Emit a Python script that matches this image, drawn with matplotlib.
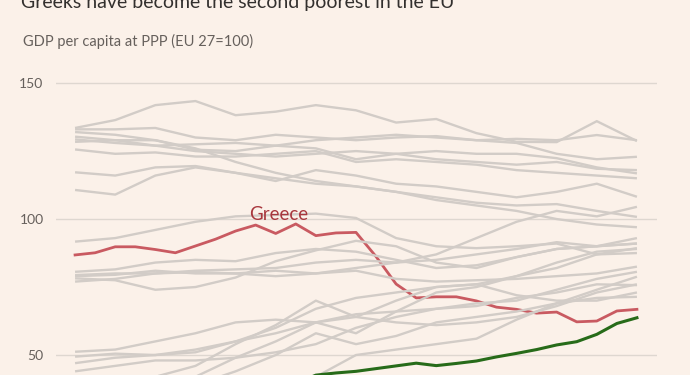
import matplotlib
matplotlib.use('Agg')
import matplotlib.pyplot as plt

plt.rcParams['font.family'] = ['Lato', 'DejaVu Sans']

# Years for the grey lines (read every second year off the picture)
years2 = [1995, 1997, 1999, 2001, 2003, 2005, 2007, 2009, 2011, 2013, 2015, 2017, 2019, 2021, 2023]

# Grey countries, GDP per capita at PPP (EU 27=100)
nl = [133.5, 136.4, 141.9, 143.4, 138.2, 139.5, 141.9, 140.0, 135.5, 136.8, 131.6, 128.4, 128.3, 136.0, 128.7]
dk = [133.0, 133.0, 133.5, 130.0, 129.0, 131.0, 130.0, 129.0, 130.0, 130.5, 129.0, 129.5, 129.0, 130.9, 129.0]
at = [132.0, 131.0, 129.0, 125.5, 125.0, 127.0, 129.0, 130.0, 131.0, 130.0, 129.0, 128.0, 124.0, 122.0, 122.9]
be = [130.3, 129.0, 127.0, 125.0, 124.0, 123.0, 124.0, 125.0, 124.0, 122.0, 121.0, 120.0, 121.0, 118.5, 118.0]
de = [129.3, 128.0, 127.0, 127.5, 128.0, 127.0, 126.0, 122.0, 124.0, 125.0, 124.0, 124.0, 122.4, 119.0, 116.8]
se = [125.6, 124.0, 124.5, 123.0, 123.0, 124.0, 125.0, 121.0, 122.0, 121.0, 120.0, 118.0, 117.0, 116.0, 115.0]
it = [128.4, 129.0, 129.0, 126.0, 121.0, 117.0, 114.0, 112.0, 110.0, 107.0, 105.0, 103.0, 100.0, 98.0, 97.0]
fr = [117.2, 116.0, 119.0, 119.5, 117.0, 115.0, 113.0, 112.0, 110.0, 108.0, 106.0, 105.0, 105.5, 103.0, 100.8]
fi = [110.7, 109.0, 116.0, 119.0, 117.0, 114.0, 118.0, 116.0, 113.0, 112.0, 110.0, 108.0, 110.0, 113.0, 108.2]
es = [91.7, 93.0, 96.0, 99.0, 101.0, 101.5, 102.0, 100.4, 93.0, 90.0, 89.3, 90.0, 91.0, 87.0, 89.3]
mt = [79.0, 79.5, 81.0, 80.0, 80.0, 79.0, 80.0, 82.0, 84.0, 87.0, 93.0, 99.0, 103.0, 101.0, 104.5]
cy = [78.2, 77.5, 74.0, 75.0, 78.5, 84.5, 88.5, 92.0, 90.0, 84.0, 82.0, 86.0, 89.0, 90.0, 93.0]
si = [80.6, 81.5, 84.0, 85.0, 84.5, 87.5, 89.0, 88.0, 85.0, 82.0, 83.0, 86.0, 89.0, 90.0, 91.0]
cz = [79.4, 80.0, 80.0, 81.0, 81.5, 82.0, 84.0, 85.0, 84.0, 85.0, 87.0, 89.0, 91.5, 90.0, 91.0]
pt = [77.0, 78.0, 80.0, 80.5, 80.0, 81.0, 80.0, 81.0, 78.0, 77.0, 77.5, 78.0, 79.0, 80.0, 82.5]
hu = [51.2, 52.0, 55.0, 58.0, 62.0, 63.0, 62.0, 65.0, 66.0, 67.0, 68.0, 71.0, 73.0, 76.0, 75.7]
sk = [49.4, 50.5, 50.0, 51.0, 55.0, 60.0, 67.0, 71.0, 73.0, 75.0, 76.0, 72.0, 70.0, 70.0, 73.0]
hr = [47.0, 49.0, 50.0, 52.0, 55.0, 58.0, 62.0, 64.0, 62.0, 61.0, 62.0, 64.0, 68.0, 73.0, 76.0]
pl = [44.0, 46.0, 48.0, 48.0, 49.0, 51.0, 54.0, 60.0, 64.0, 67.0, 69.0, 70.0, 74.0, 78.0, 80.6]
lt = [35.0, 37.0, 39.0, 42.0, 49.0, 55.0, 62.0, 58.0, 66.0, 73.0, 75.0, 79.0, 84.0, 88.0, 89.0]
ee = [34.0, 39.0, 42.0, 46.0, 54.0, 61.0, 70.0, 64.0, 70.0, 75.0, 76.0, 79.0, 82.0, 87.0, 87.5]
lv = [31.0, 34.0, 36.0, 39.0, 44.0, 50.0, 58.0, 54.0, 57.0, 62.0, 64.0, 66.0, 69.0, 71.0, 71.4]
ro = [30.0, 28.0, 26.0, 26.0, 31.0, 36.0, 42.0, 50.0, 52.0, 54.0, 56.0, 63.0, 69.0, 74.0, 78.8]

others = [nl, dk, at, be, de, se, it, fr, fi, es, mt, cy, si, cz, pt,
          hu, sk, hr, pl, lt, ee, lv, ro]

# Highlighted series, yearly
years = list(range(1995, 2024))
greece = [86.8, 87.6, 89.8, 89.8, 88.8, 87.6, 90.1, 92.6, 95.6, 97.8,
          94.7, 98.2, 93.9, 94.9, 95.1, 86.2, 76.1, 71.0, 71.4, 71.4,
          69.9, 67.6, 66.8, 65.4, 65.8, 62.2, 62.5, 66.2, 66.8]
bulgaria = [32.0, 31.0, 27.0, 27.0, 27.0, 28.0, 29.0, 31.0, 33.0, 35.0,
            37.0, 39.5, 42.6, 43.4, 44.0, 45.0, 46.0, 47.0, 46.1, 46.9,
            47.8, 49.3, 50.6, 52.0, 53.7, 54.9, 57.6, 61.6, 63.7]

bg = '#FBF1E9'
fig = plt.figure(figsize=(6.9, 3.75), dpi=100, facecolor=bg)
ax = fig.add_axes([56 / 690, 0, 601 / 690, 315 / 375])
ax.set_facecolor(bg)

for s in others:
    ax.plot(years2, s, color='#D2CCC7', lw=1.7, zorder=3, solid_capstyle='butt')

ax.plot(years, greece, color='#C95A61', lw=2.0, zorder=2)
ax.plot(years, bulgaria, color='#276B19', lw=2.2, zorder=4)

ax.text(2003.65, 99.8, 'Greece', color='#A8373D', fontsize=13.5, va='baseline', ha='left', zorder=5)

ax.set_xlim(1994.05, 2024.0)
ax.set_ylim(42.65, 158.5)
ax.set_yticks([50, 100, 150])
ax.set_xticks([])
ax.tick_params(axis='y', length=0, pad=9, labelsize=10, labelcolor='#66605C')
for sp in ax.spines.values():
    sp.set_visible(False)
ax.grid(axis='y', color='#DED7D0', lw=1.0, zorder=1)
ax.set_axisbelow(True)

fig.text(21 / 690, 1 - 8 / 375, 'Greeks have become the second poorest in the EU',
         fontsize=14, color='#33302E', va='baseline', ha='left')
fig.text(23 / 690, 1 - 41 / 375, 'GDP per capita at PPP (EU 27=100)',
         fontsize=10.5, color='#66605C', va='center', ha='left')

fig.savefig('out.png', dpi=100, facecolor=bg)
